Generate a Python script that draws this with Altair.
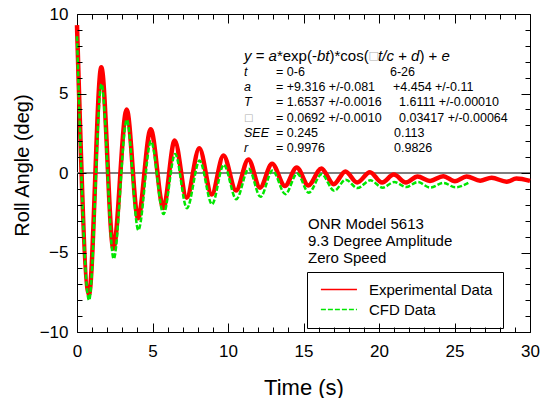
import altair as alt
import pandas as pd

# ---------------- data ----------------
red_t = [0.0, 0.79, 1.61, 2.41, 3.29, 4.04, 4.88, 5.72, 6.47, 7.26, 8.10, 8.92, 9.70,
         10.53, 11.35, 12.12, 12.92, 13.77, 14.55, 15.32, 16.18, 17.00, 17.78, 18.55,
         19.40, 20.20, 20.98, 21.78, 22.55, 23.38, 24.25, 25.03, 25.80, 26.70, 27.46,
         28.45, 29.10, 30.0]
red_v = [9.3, -7.65, 6.65, -4.75, 4.0, -2.85, 2.75, -2.2, 2.05, -1.55, 1.55, -1.35, 1.1,
         -1.1, 0.85, -0.92, 0.58, -0.82, 0.35, -0.78, 0.28, -0.7, 0.1, -0.6,
         0.05, -0.6, -0.1, -0.6, -0.22, -0.5, -0.2, -0.52, -0.22, -0.48, -0.3,
         -0.55, -0.35, -0.5]

green_t = [0.0, 0.80, 1.62, 2.43, 3.30, 4.06, 4.90, 5.73, 6.50, 7.28, 8.12, 8.94, 9.72,
           10.55, 11.37, 12.15, 12.95, 13.80, 14.58, 15.35, 16.20, 17.03, 17.80, 18.57,
           19.42, 20.25, 21.00, 21.80, 22.57, 23.40, 24.27, 25.05, 26.0]
green_v = [8.6, -8.0, 5.6, -5.4, 3.35, -3.6, 2.0, -2.58, 1.2, -2.22, 0.78, -1.97, 0.52,
           -1.65, 0.27, -1.5, 0.15, -1.33, -0.03, -1.24, -0.08, -1.12, -0.42, -0.95,
           -0.46, -0.92, -0.57, -0.88, -0.57, -0.92, -0.62, -0.9, -0.58]

series_names = ["Experimental Data", "CFD Data"]

x_major = [0, 5, 10, 15, 20, 25, 30]
x_minor = [v for v in range(1, 30) if v % 5]
y_major = [-10, -5, 0, 5, 10]
y_minor = [v for v in range(-9, 10) if v % 5]

eq_parts = ["y", " = ", "a", "*exp(-", "bt", ")*cos(", "\u25a1", "t/c", " + ", "d", ") + ", "e"]
eq_kinds = ["i", "n", "i", "n", "i", "n", "g", "i", "n", "i", "n", "i"]
row_labels = ["t", "a", "T", "\u25a1", "SEE", "r"]
col1 = ["= 0-6", "= +9.316 +/-0.081", "= 1.6537 +/-0.0016", "= 0.0692 +/-0.0010",
        "= 0.245", "= 0.9976"]
col2 = ["6-26", "+4.454 +/-0.11", "1.6111 +/-0.00010", "0.03417 +/-0.00064",
        "0.113", "0.9826"]
info_lines = ["ONR Model 5613", "9.3 Degree Amplitude", "Zero Speed"]

# ---------------- layout ----------------
FONT = "Liberation Sans"
W, H = 453, 318
PL, PT = 77, 14


def px2t(px):
    return (px - PL) * 30.0 / W


def py2v(py):
    return 10.0 - (py - PT) * 20.0 / H


ARIAL = {" ": 278, "(": 333, ")": 333, "*": 389, "+": 584, "-": 333, ".": 278,
         "/": 278, "=": 584, "a": 556, "b": 556, "c": 500, "d": 556, "e": 556,
         "o": 556, "p": 556, "s": 500, "t": 278, "x": 500, "y": 500}


def text_w(s, size):
    return sum(ARIAL.get(ch, 556) for ch in s) * size / 1000.0


EQ_SIZE = 15
rows = []
cur = 244.0
for part, kind in zip(eq_parts, eq_kinds):
    lead = len(part) - len(part.lstrip(" "))
    start = cur + text_w(" " * lead, EQ_SIZE)
    rows.append({"x": px2t(start), "y": py2v(56), "text": part.strip(" "), "kind": kind})
    cur += 9.5 if kind == "g" else text_w(part, EQ_SIZE)
eq_df = pd.DataFrame(rows)

row_py = [72, 87, 102, 118, 133, 148]
col2_px = [390, 393, 399, 399, 394, 394]
lab_df = pd.DataFrame({"x": [px2t(244)] * 6, "y": [py2v(p) for p in row_py],
                       "text": row_labels,
                       "kind": ["g" if s == "\u25a1" else "i" for s in row_labels]})
c1_df = pd.DataFrame({"x": [px2t(276)] * 6, "y": [py2v(p) for p in row_py], "text": col1})
c2_df = pd.DataFrame({"x": [px2t(p) for p in col2_px], "y": [py2v(p) for p in row_py],
                      "text": col2})
info_df = pd.DataFrame({"x": [px2t(308)] * 3, "y": [py2v(p) for p in [229, 246, 263]],
                        "text": info_lines})

red_df = pd.DataFrame({"t": red_t, "v": red_v, "series": series_names[0]})
green_df = pd.DataFrame({"t": green_t, "v": green_v, "series": series_names[1]})
zero_df = pd.DataFrame({"zero": [0]})

xs = alt.Scale(domain=[0, 30], nice=False, zero=False)
ys = alt.Scale(domain=[-10, 10], nice=False, zero=False)
cscale = alt.Scale(domain=series_names, range=["#ff0000", "#00e600"])
dscale = alt.Scale(domain=series_names, range=[[1, 0], [5, 2]])

# custom legend stroke: a 36 px line that starts at the symbol slot's left edge
SYM = "M-1,0H9"
legend_def = alt.Legend(title=None, orient="none", legendX=230, legendY=258,
                        direction="vertical", strokeColor="black", fillColor="white",
                        padding=10, labelFontSize=15, labelFont=FONT, labelColor="black",
                        symbolType=SYM, symbolSize=52, symbolStrokeWidth=1.5,
                        labelOffset=37, rowPadding=4, cornerRadius=0)

x_main = alt.Axis(values=x_major, ticks=False, domain=False, grid=False, labelFontSize=17,
                  labelFont=FONT, labelColor="black", labelPadding=11, labelFlush=False,
                  format="d", title="Time (s)", titleFontSize=22,
                  titleFont=FONT, titleFontWeight="normal", titleColor="black",
                  titleY=62, titleBaseline="alphabetic")
y_main = alt.Axis(values=y_major, ticks=False, domain=False, grid=False, labelFontSize=17,
                  labelFont=FONT, labelColor="black", labelPadding=9,
                  format="d", title="Roll Angle (deg)", titleFontSize=20, titleFont=FONT,
                  titleFontWeight="normal", titleColor="black", titleX=-55, titleY=151,
                  titleBaseline="middle")


def tick_axis(orient, values, size):
    # negative tick size (given as an expression) points the ticks into the plot
    return alt.Axis(orient=orient, values=values, labels=False, domain=False, grid=False,
                    ticks=True, tickSize=alt.ExprRef(expr=str(-size)),
                    tickColor="black", tickWidth=1, title=None, zindex=1)


zero_rule = alt.Chart(zero_df).mark_rule(color="#7f7f7f", strokeWidth=2).encode(
    y=alt.Y("zero:Q", scale=ys, axis=None))

red_line = alt.Chart(red_df).mark_line(strokeWidth=4.5, interpolate="monotone").encode(
    x=alt.X("t:Q", scale=xs, axis=x_main),
    y=alt.Y("v:Q", scale=ys, axis=y_main),
    color=alt.Color("series:N", scale=cscale, legend=legend_def),
)

green_line = alt.Chart(green_df).mark_line(strokeWidth=2.5, interpolate="monotone").encode(
    x=alt.X("t:Q", scale=xs, axis=None),
    y=alt.Y("v:Q", scale=ys, axis=None),
    color=alt.Color("series:N", scale=cscale, legend=legend_def),
    strokeDash=alt.StrokeDash("series:N", scale=dscale, legend=legend_def),
)


def tick_layer(xo, yo, xv, yv, size):
    return alt.Chart(red_df).mark_point(opacity=0, size=1).encode(
        x=alt.X("t:Q", scale=xs, axis=tick_axis(xo, xv, size)),
        y=alt.Y("v:Q", scale=ys, axis=tick_axis(yo, yv, size)),
    )


ticks = [
    tick_layer("bottom", "left", x_major, y_major, 9),
    tick_layer("bottom", "left", x_minor, y_minor, 5),
    tick_layer("top", "right", x_major, y_major, 9),
    tick_layer("top", "right", x_minor, y_minor, 5),
]


def text_layer(df, size, style="normal", color="black", font=FONT, baseline="middle"):
    return alt.Chart(df).mark_text(align="left", baseline=baseline, font=font,
                                   fontSize=size, fontStyle=style, color=color).encode(
        x=alt.X("x:Q", scale=xs, axis=None),
        y=alt.Y("y:Q", scale=ys, axis=None),
        text="text:N",
    )


texts = [
    text_layer(eq_df[eq_df.kind == "i"], EQ_SIZE, "italic"),
    text_layer(eq_df[eq_df.kind == "n"], EQ_SIZE),
    text_layer(eq_df[eq_df.kind == "g"], 11, color="#b0b0b0", font="DejaVu Sans"),
    text_layer(lab_df[lab_df.kind == "i"], 12.5, "italic"),
    text_layer(lab_df[lab_df.kind == "g"], 10, color="#b0b0b0", font="DejaVu Sans"),
    text_layer(c1_df, 12.5),
    text_layer(c2_df, 12.5),
    text_layer(info_df, 15, baseline="alphabetic"),
]

chart = alt.layer(zero_rule, red_line, green_line, *ticks, *texts).resolve_axis(
    x="independent", y="independent"
).properties(
    width=W, height=H,
    autosize=alt.AutoSizeParams(type="none"),
    padding={"left": PL, "top": PT, "right": 541 - PL - W, "bottom": 398 - PT - H},
    background="white",
).configure_view(stroke="black", strokeWidth=1)

chart.save("out.html", embed_options={"renderer": "svg", "actions": False})
